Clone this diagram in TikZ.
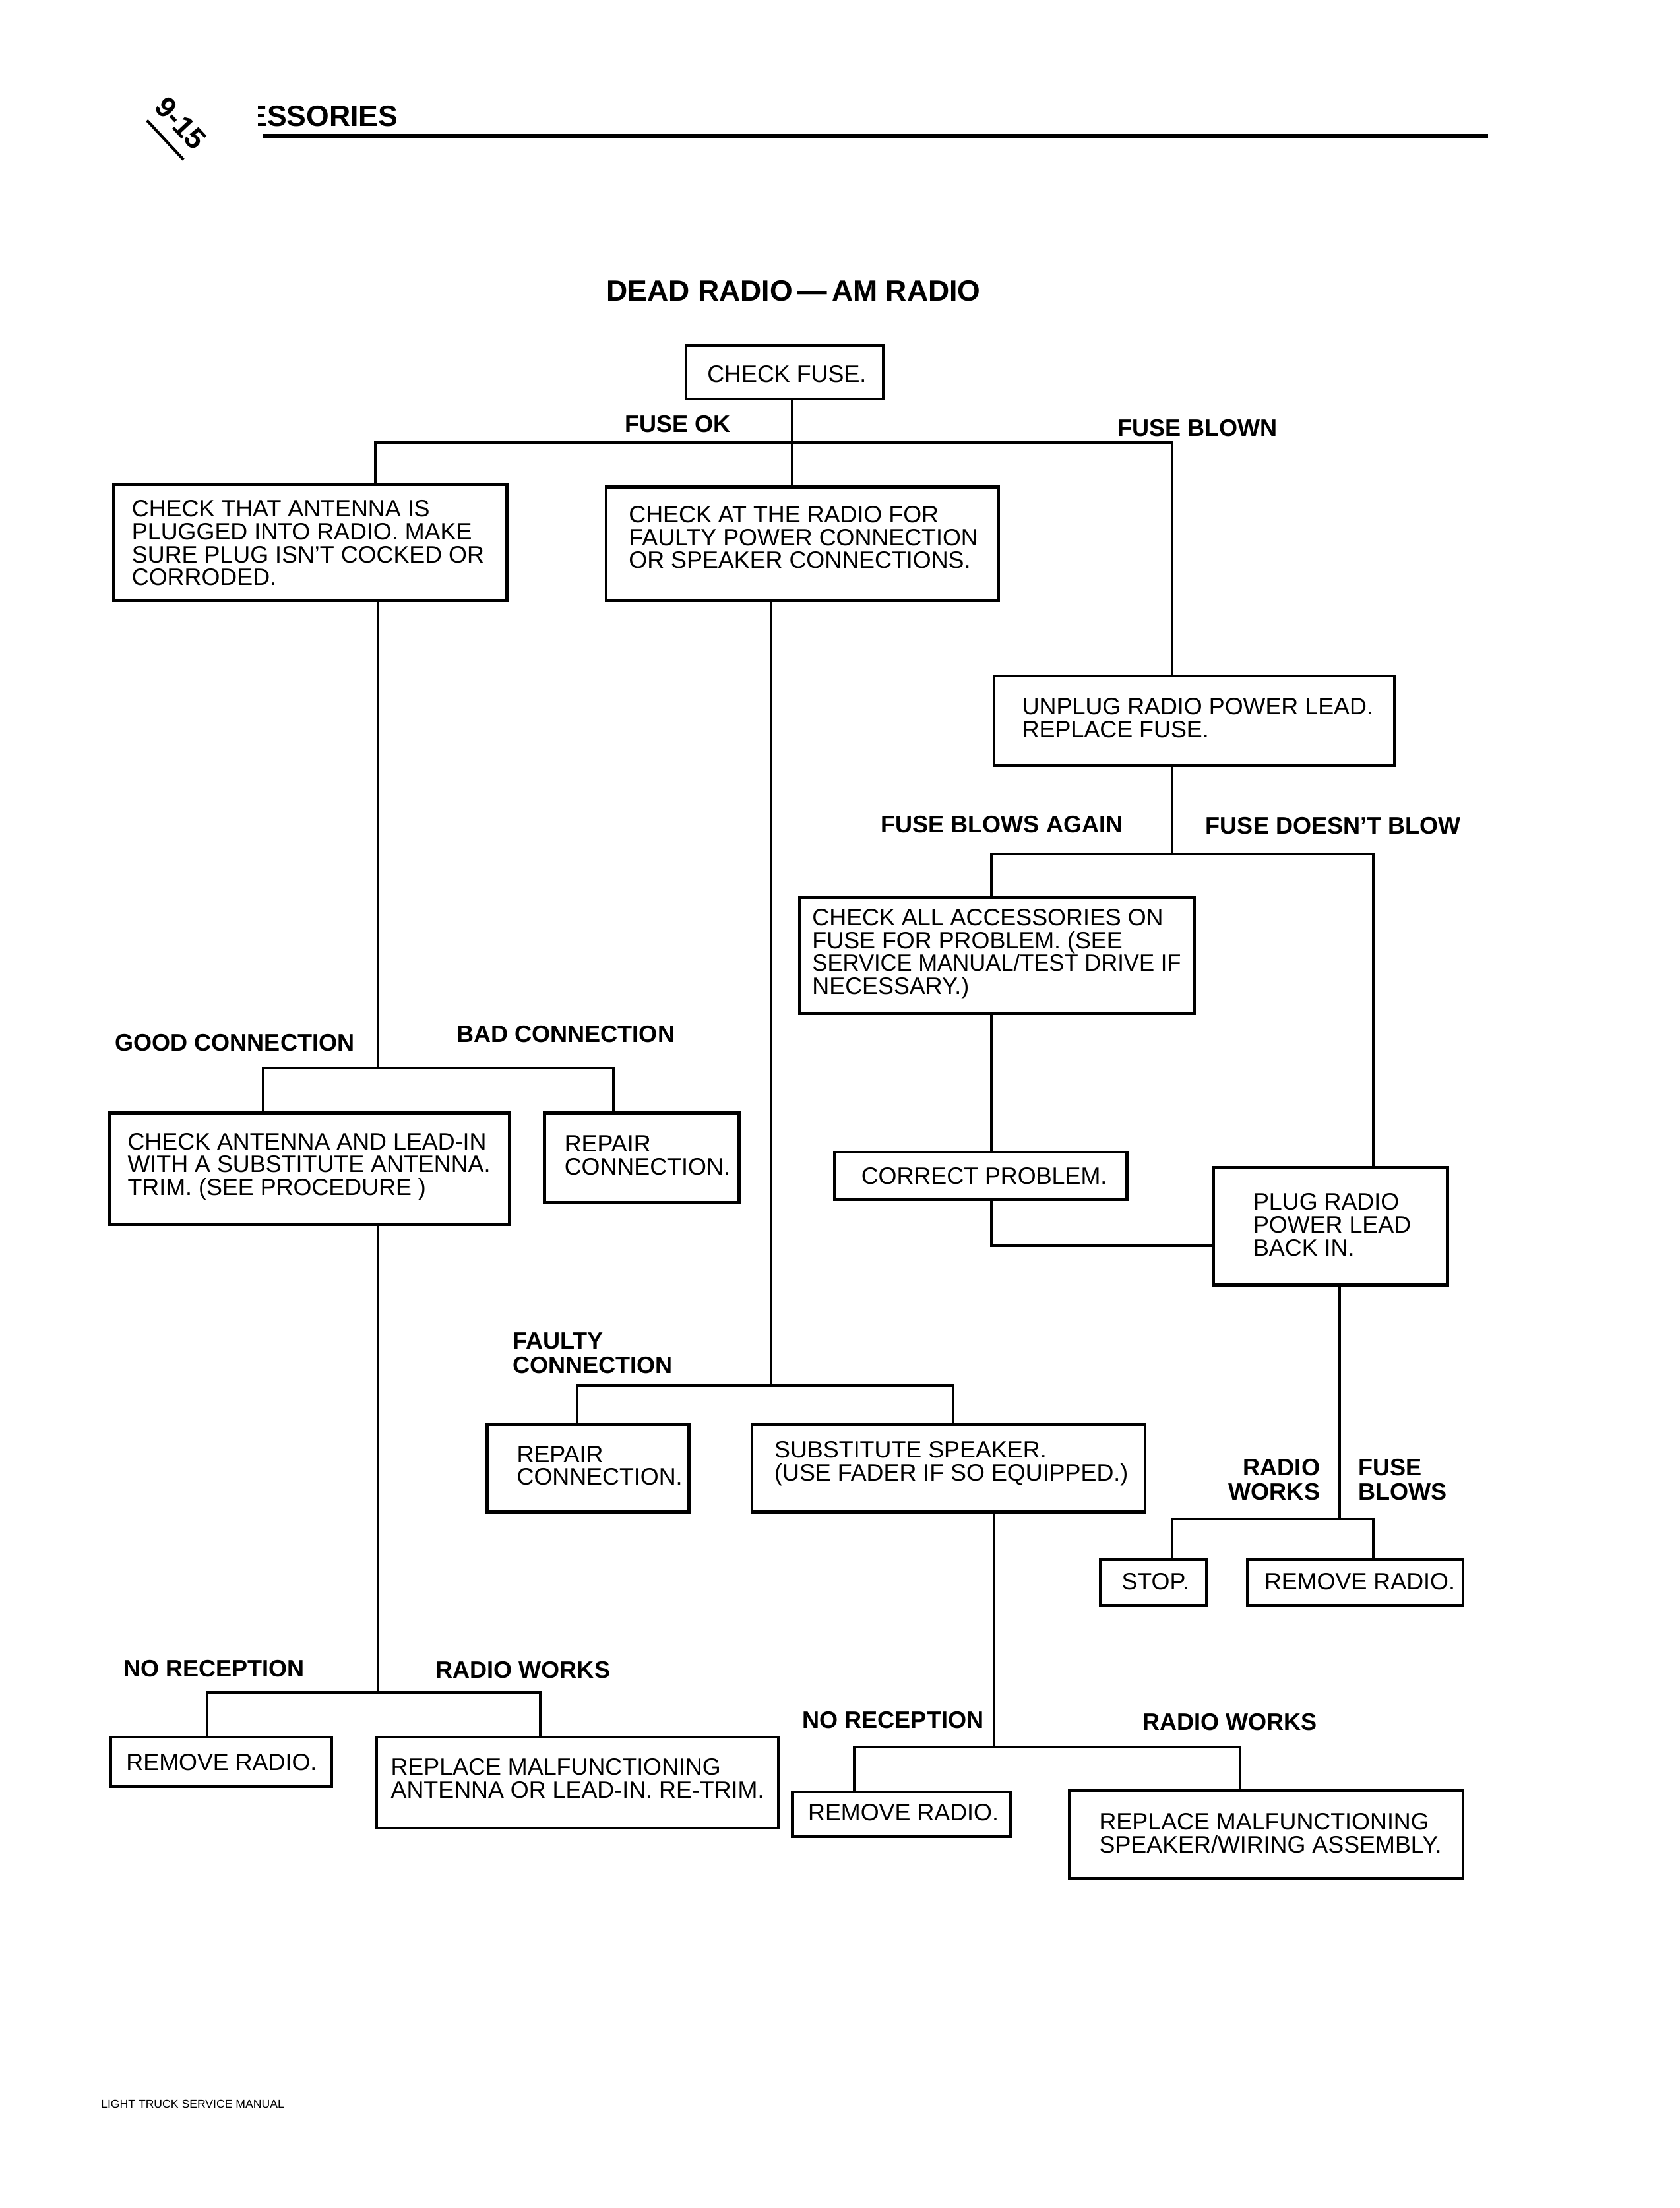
\documentclass[tikz,border=0pt]{standalone}
\usepackage{graphicx}
\usepackage{fontspec}
\setmainfont{Liberation Sans}
\newcommand\bodyf{\fontsize{16.9}{16.3}\selectfont}
\newcommand\labf{\bfseries\fontsize{17}{17.5}\selectfont}
\newcommand\bx[8]{%
  \node[box, minimum width={(#4)-(#2)}, minimum height={(#5)-(#3)}] (#1) at ({((#2)+(#4))/2},{((#3)+(#5))/2}) {};
  \node[txt] (#1t) at (#6,#7) {#8};
}
\begin{document}
\begin{tikzpicture}[x=1pt,y=-1pt,
  box/.style={draw, rectangle, line width=2.1pt, inner sep=0pt},
  txt/.style={anchor=west, align=left, inner sep=0pt, font=\bodyf},
  lab/.style={anchor=west, align=left, inner sep=0pt, font=\labf},
  conn/.style={line width=1.8pt}]
\fill[white] (0,0) rectangle (1200,1577.4);
\useasboundingbox (0,0) rectangle (1200,1577.4);

% header
\begin{scope}
  \clip (184.5,60) rectangle (300,96);
  \node[inner sep=0pt, anchor=base east, font=\bfseries\fontsize{21}{22}\selectfont] (hdr) at (284.5,90) {ESSORIES};
\end{scope}
\draw[line width=2.5pt] (188,97) -- (1063,97);
\draw[line width=2pt] (105,86) -- (131,114);
\node[inner sep=0pt, rotate=-47, font=\bfseries\fontsize{21}{22}\selectfont] (pg) at (129,88) {9-15};

% title
\node[inner sep=0pt, anchor=west, font=\bfseries\fontsize{21}{23}\selectfont] (title) at (433,208) {DEAD RADIO\,—\,AM RADIO};

% boxes
\bx{fuse}{490}{247}{631}{285}{505}{267}{CHECK FUSE.}
\bx{A}{81}{346}{362}{429}{94}{388}{CHECK THAT ANTENNA IS\\PLUGGED INTO RADIO. MAKE\\SURE PLUG ISN’T COCKED OR\\CORRODED.}
\bx{B}{433}{348}{713}{429}{449}{384}{CHECK AT THE RADIO FOR\\FAULTY POWER CONNECTION\\OR SPEAKER CONNECTIONS.}
\bx{K}{710}{483}{996}{547}{730}{513}{UNPLUG RADIO POWER LEAD.\\REPLACE FUSE.}
\bx{L}{571}{641}{853}{724}{580}{681.5}{CHECK ALL ACCESSORIES ON\\FUSE FOR PROBLEM. (SEE\\\scalebox{0.965}[1]{SERVICE MANUAL/TEST DRIVE IF}\\NECESSARY.)}
\bx{C}{78}{795}{364}{875}{91}{833.5}{CHECK ANTENNA AND LEAD-IN\\WITH A SUBSTITUTE ANTENNA.\\TRIM. (SEE PROCEDURE )}
\bx{D}{389}{795}{528}{859}{403}{825.5}{REPAIR\\CONNECTION.}
\bx{M}{596}{823}{805}{857}{615}{840}{CORRECT PROBLEM.}
\bx{N}{867}{834}{1034}{918}{895}{875}{PLUG RADIO\\POWER LEAD\\BACK IN.}
\bx{G}{348}{1018}{492}{1080}{369}{1047}{REPAIR\\CONNECTION.}
\bx{H}{537}{1018}{818}{1080}{553}{1045.5}{SUBSTITUTE SPEAKER.\\(USE FADER IF SO EQUIPPED.)}
\bx{O}{786}{1114}{862}{1147}{801}{1130}{STOP.}
\bx{P}{891}{1114}{1045}{1147}{903}{1130}{REMOVE RADIO.}
\bx{E}{79}{1241}{237}{1276}{90}{1259}{REMOVE RADIO.}
\bx{F}{269}{1241}{556}{1306}{279}{1270.5}{REPLACE MALFUNCTIONING\\ANTENNA OR LEAD-IN. RE-TRIM.}
\bx{I}{566}{1280}{722}{1312}{577}{1295}{REMOVE RADIO.}
\bx{J}{764}{1279}{1045}{1342}{785}{1309.5}{REPLACE MALFUNCTIONING\\SPEAKER/WIRING ASSEMBLY.}

% labels
\node[lab] (l1) at (446,303) {FUSE OK};
\node[lab] (l2) at (798,306) {FUSE BLOWN};
\node[lab] (l3) at (82,745) {GOOD CONNECTION};
\node[lab] (l4) at (326,739) {BAD CONNECTION};
\node[lab] (l5) at (366,966.5) {FAULTY\\CONNECTION};
\node[lab] (l6) at (629,589) {FUSE BLOWS AGAIN};
\node[lab] (l7) at (861,590) {FUSE DOESN’T BLOW};
\node[lab, anchor=east, align=right] (l8) at (943,1057) {RADIO\\WORKS};
\node[lab] (l9) at (970,1057) {FUSE\\BLOWS};
\node[lab] (l10) at (88,1192) {NO RECEPTION};
\node[lab] (l11) at (311,1193) {RADIO WORKS};
\node[lab] (l12) at (573,1229) {NO RECEPTION};
\node[lab] (l13) at (816,1230) {RADIO WORKS};

% connectors
\coordinate (jtop) at (566,316);
\coordinate (jl) at (268,316);
\coordinate (jr) at (837,316);
\draw[conn] (fuse.south -| jtop) -- (B.north -| jtop);
\draw[conn] (A.north -| jl) -- (jl) -- (jr) -- (K.north -| jr);

\coordinate (ga) at (270,763);
\coordinate (gl) at (188,763);
\coordinate (gr) at (438,763);
\draw[conn] (A.south -| ga) -- (ga);
\draw[conn] (C.north -| gl) -- (gl) -- (gr) -- (D.north -| gr);

\coordinate (ha) at (270,1209);
\coordinate (hl) at (148,1209);
\coordinate (hr) at (386,1209);
\draw[conn] (C.south -| ha) -- (ha);
\draw[conn] (E.north -| hl) -- (hl) -- (hr) -- (F.north -| hr);

\coordinate (ma) at (551,990);
\coordinate (ml) at (412,990);
\coordinate (mr) at (681,990);
\draw[conn] (B.south -| ma) -- (ma);
\draw[conn] (G.north -| ml) -- (ml) -- (mr) -- (H.north -| mr);

\coordinate (sa) at (710,1248);
\coordinate (sl) at (610,1248);
\coordinate (sr) at (886,1248);
\draw[conn] (H.south -| sa) -- (sa);
\draw[conn] (I.north -| sl) -- (sl) -- (sr) -- (J.north -| sr);

\coordinate (ra) at (837,610);
\coordinate (rl) at (708,610);
\coordinate (rr) at (981,610);
\draw[conn] (K.south -| ra) -- (ra);
\draw[conn] (L.north -| rl) -- (rl) -- (rr) -- (N.north -| rr);
\draw[conn] (L.south -| rl) -- (M.north -| rl);
\coordinate (mc) at (708,890);
\draw[conn] (M.south -| mc) -- (mc) -- (N.west |- mc);

\coordinate (na) at (957,1085);
\coordinate (nl) at (837,1085);
\coordinate (nr) at (981,1085);
\draw[conn] (N.south -| na) -- (na);
\draw[conn] (O.north -| nl) -- (nl) -- (nr) -- (P.north -| nr);

% footer
\node[inner sep=0pt, anchor=west, font=\fontsize{8.3}{9}\selectfont] (foot) at (72,1503) {LIGHT TRUCK SERVICE MANUAL};
\end{tikzpicture}
\end{document}
